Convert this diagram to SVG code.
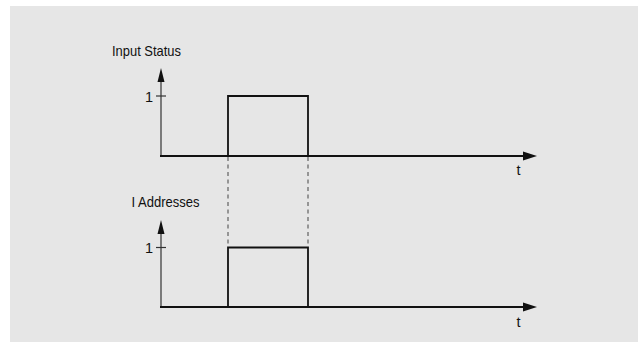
<svg xmlns="http://www.w3.org/2000/svg" width="638" height="342" viewBox="0 0 638 342">
  <style>
    .lbl { font-family: "Liberation Sans", Arial, sans-serif; font-size: 14.5px; fill: #111; }
    .axis { stroke: #333; stroke-width: 1.2; fill: none; }
    .base { stroke: #111; stroke-width: 2; fill: none; }
    .sig { stroke: #111; stroke-width: 1.8; fill: none; }
    .dash { stroke: #444; stroke-width: 1; stroke-dasharray: 4 3.5; fill: none; }
    .head { fill: #111; }
  </style>
  <rect x="0" y="0" width="638" height="342" fill="#ffffff"/>
  <rect x="10" y="6" width="628" height="336" fill="#e6e6e6"/>

  <g id="connectors">
    <line class="dash" x1="228" y1="157" x2="228" y2="247"/>
    <line class="dash" x1="308" y1="157" x2="308" y2="247"/>
  </g>

  <g id="chart-input-status">
    <text class="lbl" x="112" y="56" textLength="69" lengthAdjust="spacingAndGlyphs">Input Status</text>
    <line class="axis" x1="161" y1="80" x2="161" y2="156"/>
    <polygon class="head" points="161,68 157.5,82 164.5,82"/>
    <line class="axis" x1="156" y1="96" x2="166" y2="96"/>
    <text class="lbl" x="145" y="101.5">1</text>
    <line class="base" x1="160" y1="156" x2="526" y2="156"/>
    <polygon class="head" points="537,156 523,151.5 523,160.5"/>
    <polyline class="sig" points="228,156 228,96 308,96 308,156"/>
    <text class="lbl" x="516.5" y="175">t</text>
  </g>

  <g id="chart-i-addresses">
    <text class="lbl" x="131.5" y="206.5" textLength="68" lengthAdjust="spacingAndGlyphs">I Addresses</text>
    <line class="axis" x1="161" y1="232" x2="161" y2="307"/>
    <polygon class="head" points="161,220 157.5,234 164.5,234"/>
    <line class="axis" x1="156" y1="247.5" x2="166" y2="247.5"/>
    <text class="lbl" x="145" y="253">1</text>
    <line class="base" x1="160" y1="307" x2="526" y2="307"/>
    <polygon class="head" points="537,307 523,302.5 523,311.5"/>
    <polyline class="sig" points="228,307 228,247.5 308,247.5 308,307"/>
    <text class="lbl" x="516.5" y="327">t</text>
  </g>
</svg>
